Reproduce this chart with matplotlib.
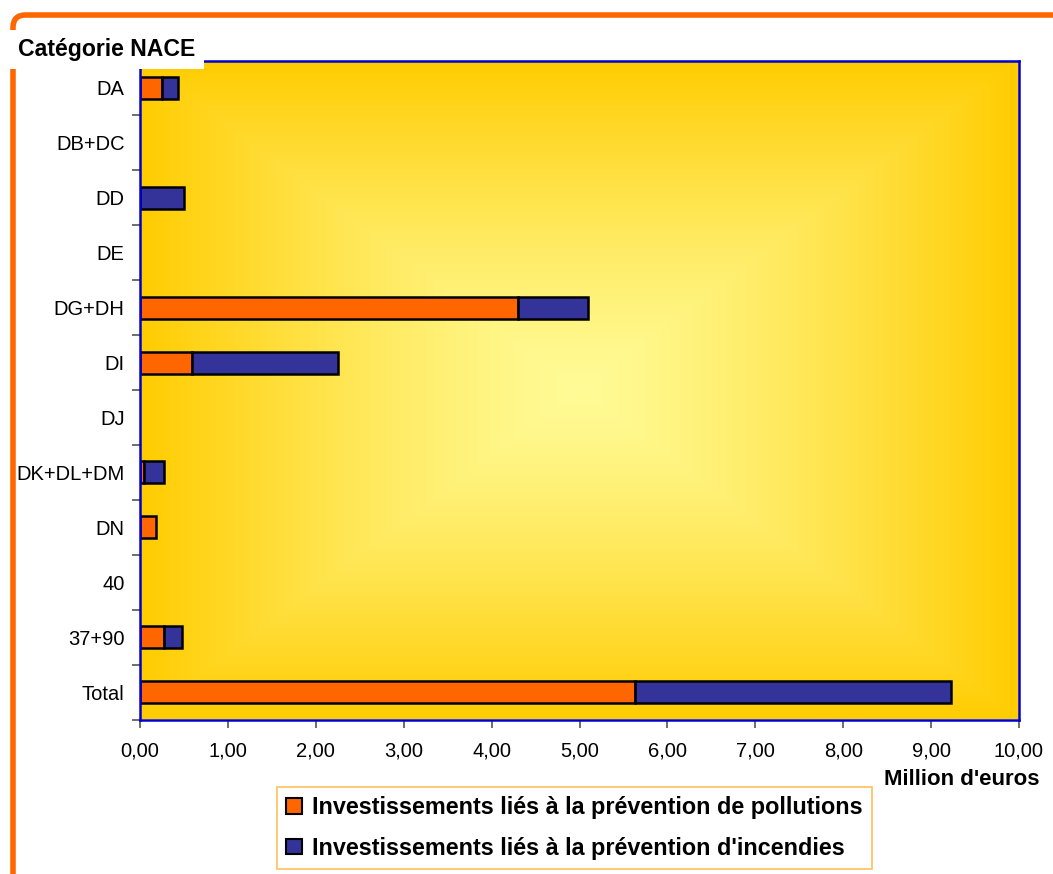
import matplotlib.pyplot as plt
import numpy as np
from matplotlib.patches import FancyBboxPatch
from matplotlib.ticker import FuncFormatter, FixedLocator

plt.rcParams['font.family'] = ['Liberation Sans', 'DejaVu Sans']

# données (millions d'euros)
categories = ['DA', 'DB+DC', 'DD', 'DE', 'DG+DH', 'DI', 'DJ',
              'DK+DL+DM', 'DN', '40', '37+90', 'Total']
pollutions = [0.25, 0, 0, 0, 4.30, 0.59, 0, 0.04, 0.18, 0, 0.27, 5.63]
incendies = [0.18, 0, 0.50, 0, 0.80, 1.66, 0, 0.23, 0, 0, 0.21, 3.60]
legend_labels = ["Investissements liés à la prévention de pollutions",
                 "Investissements liés à la prévention d'incendies"]

W, H = 1053, 874
fig = plt.figure(figsize=(W / 100, H / 100), dpi=100)

# cadre orange arrondi
frame = FancyBboxPatch((13 / W, -0.2), 1.2, 1.2 - 15 / H,
                       boxstyle='round,pad=0,rounding_size=0.012',
                       mutation_aspect=W / H,
                       transform=fig.transFigure, fill=False,
                       edgecolor='#FF6600', linewidth=4)
fig.patches.append(frame)

ax = fig.add_axes([140 / W, 1 - 719.5 / H, 879 / W, 659 / H])

# fond en dégradé rectangulaire (du centre vers les bords)
n = 400
u = np.linspace(-1, 1, n)
uu, vv = np.meshgrid(u, u)
t = np.maximum(np.abs(uu), np.abs(vv)) ** 1.3
c_center = np.array([255, 251, 150]) / 255
c_edge = np.array([255, 204, 0]) / 255
img = c_center[None, None, :] * (1 - t[..., None]) + c_edge[None, None, :] * t[..., None]
ax.imshow(img, extent=[0, 10, len(categories) - 0.5, -0.5], aspect='auto',
          zorder=0, interpolation='bilinear')

y = np.arange(len(categories))
ax.barh(y, pollutions, height=0.4, color='#FF6600', edgecolor='black',
        linewidth=1.8, label=legend_labels[0], zorder=2)
ax.barh(y, incendies, left=pollutions, height=0.4, color='#333399',
        edgecolor='black', linewidth=1.8, label=legend_labels[1], zorder=2)

# on masque les barres nulles (pas de contour)
for cont in ax.containers:
    for p in cont.patches:
        if p.get_width() == 0:
            p.set_visible(False)

ax.set_xlim(0, 10)
ax.set_ylim(len(categories) - 0.5, -0.5)
ax.set_xticks(np.arange(0, 11, 1))
ax.xaxis.set_major_formatter(FuncFormatter(lambda v, pos: f"{v:.2f}".replace('.', ',')))
ax.set_yticks(y)
ax.set_yticklabels(categories)
ax.yaxis.set_minor_locator(FixedLocator(np.arange(-0.5, len(categories), 1)))
ax.tick_params(axis='y', which='major', length=0, pad=11, labelsize=14.5)
ax.tick_params(axis='y', which='minor', length=6, width=1.2, color='#555555')
ax.tick_params(axis='x', length=6, width=1.2, color='#555555', labelsize=14.5, pad=10)

for s in ax.spines.values():
    s.set_color('#0000CC')
    s.set_linewidth(1.8)

fig.text(18 / W, 1 - 56 / H, 'Catégorie NACE', fontsize=16.6, fontweight='bold',
         ha='left', va='baseline',
         bbox=dict(facecolor='white', edgecolor='none', pad=6), zorder=5)
fig.text(1040 / W, 1 - 785 / H, "Million d'euros", fontsize=16,
         fontweight='bold', ha='right', va='baseline')

leg = fig.legend(loc='upper left', bbox_to_anchor=(277 / W, 1 - 787 / H),
                 bbox_transform=fig.transFigure, frameon=True, fancybox=False,
                 prop={'size': 16.8, 'weight': 'bold'}, handlelength=0.65,
                 handleheight=0.65, handletextpad=0.45, labelspacing=0.75,
                 borderpad=0.4, borderaxespad=0)
leg.get_frame().set_edgecolor('#FFB030')
leg.get_frame().set_linewidth(1.2)
for h in leg.legend_handles:
    h.set_linewidth(1.5)

fig.savefig('out.png', dpi=100)
